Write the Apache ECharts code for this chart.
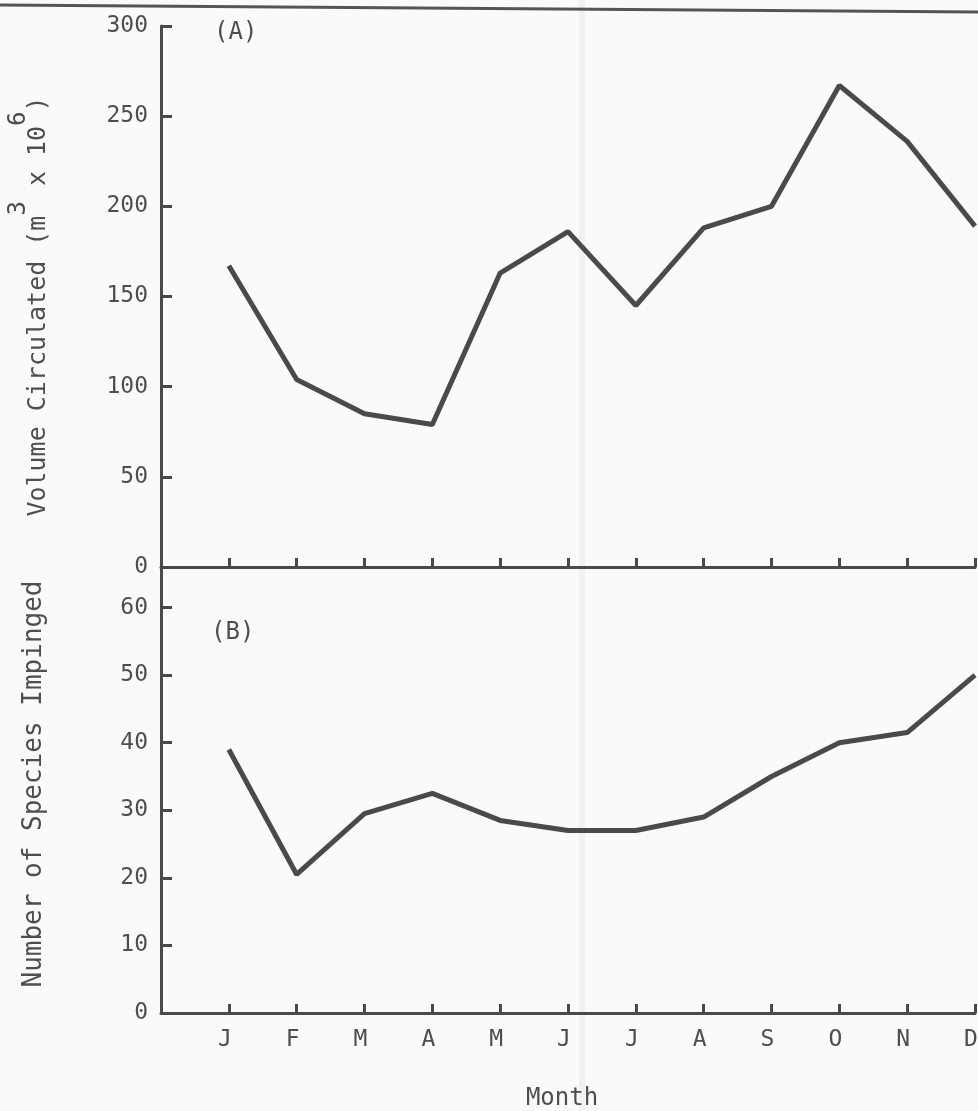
<!DOCTYPE html>
<html>
<head>
<meta charset="utf-8">
<script src="https://cdn.jsdelivr.net/npm/echarts@6/dist/echarts.min.js"></script>
<style>
html,body{margin:0;padding:0;background:#fafaf8;}
#chart{width:978px;height:1111px;}
</style>
</head>
<body>
<div id="chart"></div>
<script>
const months = ['J','F','M','A','M','J','J','A','S','O','N','D'];
const volumeCirculated = [167, 104, 85, 79, 163, 186, 145, 188, 200, 267, 236, 189];
const speciesImpinged = [39, 20.5, 29.5, 32.5, 28.5, 27, 27, 29, 35, 40, 41.5, 50];
const volumeTicks = {min: 0, max: 300, interval: 50};
const speciesTicks = {min: 0, max: 66, interval: 10};

const ink = '#4a4a4a';
const textInk = '#4e4e4e';
const font = 'DejaVu Sans Mono';

const chart = echarts.init(document.getElementById('chart'), null, {renderer: 'canvas'});

function xAxisCfg(gridIndex, showLabels) {
  return {
    gridIndex: gridIndex,
    type: 'value',
    min: 0, max: 12, interval: 1,
    axisLine: {show: true, onZero: false, lineStyle: {color: ink, width: 3}},
    axisTick: {show: true, inside: true, length: 9, lineStyle: {color: ink, width: 3}},
    splitLine: {show: false},
    axisLabel: {
      show: showLabels, margin: 16, fontSize: 23, fontFamily: font, color: textInk,
      padding: [0, 8, 0, 0],
      formatter: v => (v >= 1 && v <= 12) ? months[v - 1] : ''
    },
    name: showLabels ? 'Month' : '',
    nameLocation: 'middle', nameGap: 74,
    nameTextStyle: {fontSize: 24, fontFamily: font, color: textInk, padding: [0, 12, 0, 0]}
  };
}

function yAxisCfg(gridIndex, ticks, nameRich, nameGap, fontSize, pad) {
  return {
    gridIndex: gridIndex,
    type: 'value',
    min: ticks.min, max: ticks.max, interval: ticks.interval,
    axisLine: {show: true, lineStyle: {color: ink, width: 3}},
    axisTick: {show: true, inside: true, length: 11, lineStyle: {color: ink, width: 3}},
    splitLine: {show: false},
    axisLabel: {
      margin: 13, fontSize: 23, fontFamily: font, color: textInk,
      formatter: v => (v % ticks.interval === 0) ? String(v) : ''
    },
    name: nameRich,
    nameLocation: 'middle', nameRotate: 90, nameGap: nameGap,
    nameTextStyle: {
      fontSize: fontSize, fontFamily: font, color: textInk, padding: pad,
      rich: {
        n: {fontSize: fontSize, fontFamily: font, color: textInk, lineHeight: 44, verticalAlign: 'bottom'},
        sup: {fontSize: 24, fontFamily: font, color: textInk, lineHeight: 44, verticalAlign: 'top'}
      }
    }
  };
}

const option = {
  backgroundColor: '#fafaf8',
  animation: false,
  title: [
    {text: '(A)', left: 209, top: 16, textStyle: {fontSize: 24, fontWeight: 'normal', fontFamily: font, color: textInk}},
    {text: '(B)', left: 206, top: 616, textStyle: {fontSize: 24, fontWeight: 'normal', fontFamily: font, color: textInk}}
  ],
  grid: [
    {left: 161, right: 3, top: 26, height: 541, containLabel: false, outerBoundsMode: 'none'},
    {left: 161, right: 3, top: 567, height: 446, containLabel: false, outerBoundsMode: 'none'}
  ],
  xAxis: [xAxisCfg(0, false), xAxisCfg(1, true)],
  yAxis: [
    yAxisCfg(0, volumeTicks, '{n|Volume Circulated (m}{sup|3}{n| x 10}{sup|6}{n|)}', 110, 25, [0, 20, 0, 0]),
    yAxisCfg(1, speciesTicks, 'Number of Species Impinged', 114, 26, [0, 0, 0, 12])
  ],
  graphic: [
    {type: 'line', shape: {x1: 0, y1: 5, x2: 978, y2: 12}, style: {stroke: '#555', lineWidth: 3}, z: 10},
    {type: 'rect', shape: {x: 579, y: 0, width: 6, height: 1111}, style: {fill: 'rgba(0,0,0,0.035)'}, z: -1, silent: true}
  ],
  series: [
    {
      type: 'line', xAxisIndex: 0, yAxisIndex: 0,
      data: volumeCirculated.map((v, i) => [i + 1, v]),
      symbol: 'none', lineStyle: {color: ink, width: 5}, clip: false
    },
    {
      type: 'line', xAxisIndex: 1, yAxisIndex: 1,
      data: speciesImpinged.map((v, i) => [i + 1, v]),
      symbol: 'none', lineStyle: {color: ink, width: 5}, clip: false
    }
  ]
};
chart.setOption(option);
</script>
</body>
</html>
